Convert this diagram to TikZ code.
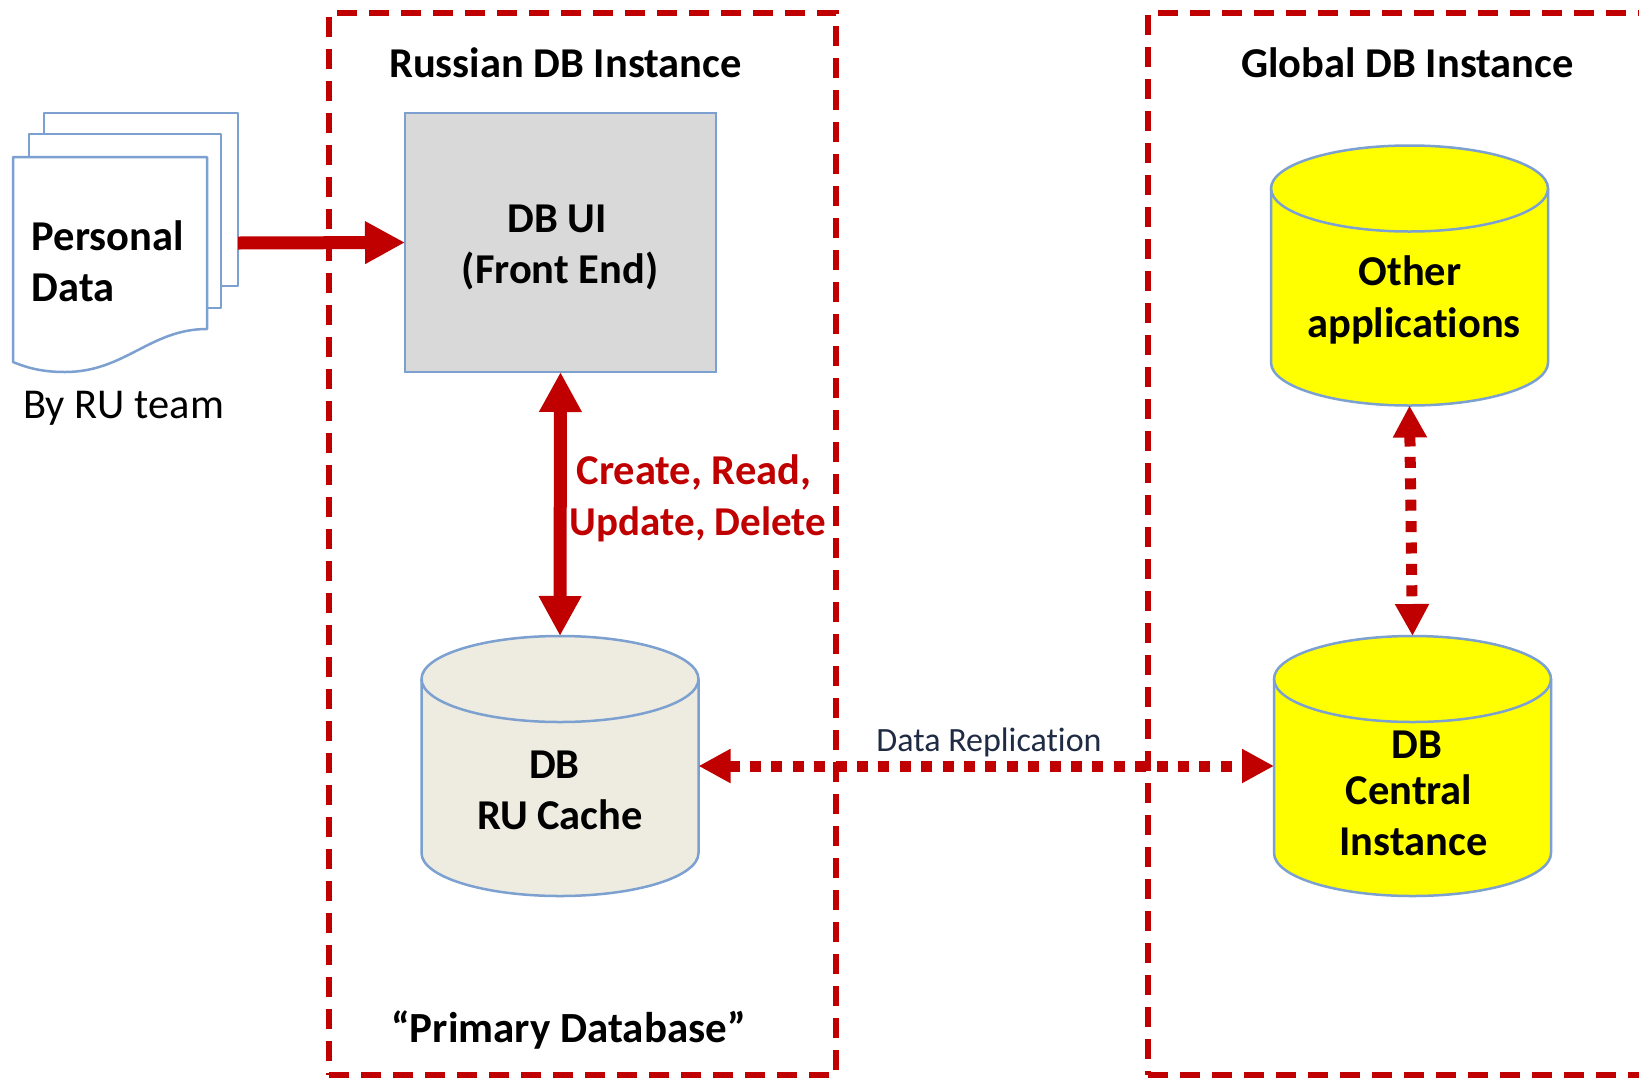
\documentclass[tikz,border=0pt]{standalone}
\usepackage{fontspec}
\setmainfont[RawFeature={-liga}]{Carlito}
\usetikzlibrary{arrows.meta}
\definecolor{dbred}{HTML}{C00000}
\definecolor{dbblue}{HTML}{7CA0D0}
\definecolor{dbcache}{HTML}{EEECE1}
\definecolor{dbgrey}{HTML}{D9D9D9}
\definecolor{dbyellow}{HTML}{FFFF00}
\definecolor{dbink}{HTML}{1F2A44}
\tikzset{
  zone/.style={draw=dbred,line width=6pt,line cap=butt,dash pattern=on 20pt off 12pt,rectangle,inner sep=0pt,outer sep=0pt},
  cylframe/.style={rectangle,inner sep=0pt,outer sep=0pt,minimum width=277pt,minimum height=260pt},
  cylbody/.style={draw=dbblue,line width=2.5pt,fill=#1},
  uibox/.style={draw=dbblue,line width=2.5pt,fill=dbgrey,rectangle,inner sep=0pt,outer sep=0pt},
  sheet/.style={draw=dbblue,line width=2.5pt,fill=white,line join=round},
  lblb/.style={anchor=base,inner sep=0pt,font=\fontsize{42.5}{42.5}\selectfont\bfseries},
  lblr/.style={anchor=base,inner sep=0pt,font=\fontsize{42.5}{42.5}\selectfont},
  solidarrow/.style={draw=dbred,line width=13pt,{Triangle[length=40pt,width=40pt]}-{Triangle[length=40pt,width=40pt]}},
  oneway/.style={draw=dbred,line width=13pt,-{Triangle[length=40pt,width=40pt]}},
  dotarrow/.style={draw=dbred,line width=11pt,dash pattern=on 11pt off 10.4pt,{Triangle[length=32pt,width=32pt]}-{Triangle[length=32pt,width=32pt]}}
}
% name, centre x, centre y, fill
\newcommand{\dbdrum}[4]{%
  \node[cylframe] (#1) at (#2,#3) {};
  \draw[cylbody=#4] (#1.north west) ++(0,43) arc[x radius=138.5,y radius=-43,start angle=180,end angle=0]
    -- ++(0,174) arc[x radius=138.5,y radius=-43,start angle=0,end angle=-180] -- cycle;
  \draw[draw=dbblue,line width=2.5pt] (#1.north west) ++(0,43) arc[x radius=138.5,y radius=-43,start angle=-180,end angle=0];
}
\begin{document}
\begin{tikzpicture}[x=1pt,y=-1pt]
\useasboundingbox (0,0) rectangle (1639,1077);
\clip (0,0) rectangle (1639,1077);
\fill[white] (0,0) rectangle (1639,1077);
% zones
\node[zone,minimum width=507pt,minimum height=1062pt] (ruzone) at (582.5,544) {};
\node[zone,minimum width=700pt,minimum height=1062pt] (glzone) at (1498,544) {};
% document stack
\node[inner sep=0pt,minimum width=225pt,minimum height=259pt] (docs) at (125.5,243) {};
\draw[sheet] (44,134) -- (44,113) -- (238,113) -- (238,286) -- (221,286);
\draw[sheet] (29,157) -- (29,134) -- (221,134) -- (221,308) -- (207,308);
\draw[sheet] (13,157) -- (207,157) -- (207,329) .. controls (150,329) and (125,372) .. (65,372) .. controls (45,372) and (30,369) .. (13,362) -- cycle;
% main shapes
\node[uibox,minimum width=311pt,minimum height=259pt] (ui) at (560.5,242.5) {};
\dbdrum{cache}{560}{766}{dbcache}
\dbdrum{other}{1409.5}{275.5}{dbyellow}
\dbdrum{central}{1412.5}{766}{dbyellow}
% connectors
\draw[oneway] (docs.east) -- (ui.west);
\draw[solidarrow] (ui.south) -- (cache.north);
\draw[dotarrow] (cache.east) -- (central.west);
\draw[dotarrow] (other.south) -- (central.north);
% labels
\node[lblb] (t1) at (565.5,77) {Russian DB Instance};
\node[lblb] (t2) at (1407.5,77) {Global DB Instance};
\node[lblb,anchor=base west] (t3) at (31.5,250) {Personal};
\node[lblb,anchor=base west] (t4) at (31.5,301) {Data};
\node[lblr,anchor=base west] (t5) at (23,418.5) {By RU team};
\node[lblb] (t6) at (557,232) {DB UI};
\node[lblb] (t7) at (560,283) {(Front End)};
\node[lblb,text=dbred] (t8) at (694,484) {Create, Read,};
\node[lblb,text=dbred,font=\fontsize{41}{41}\selectfont\bfseries] (t9) at (698,535) {Update, Delete};
\node[lblb] (t10) at (554.5,778) {DB};
\node[lblb] (t11) at (560,829) {RU Cache};
\node[lblb] (t12) at (1410,285) {Other};
\node[lblb] (t13) at (1414,337) {applications};
\node[lblb] (t14) at (1417,758) {DB};
\node[lblb] (t15) at (1409,804) {Central};
\node[lblb] (t16) at (1413.5,855) {Instance};
\node[lblb,font=\fontsize{43}{43}\selectfont\bfseries] (t17) at (568.5,1042) {“Primary Database”};
\node[lblr,font=\fontsize{34}{34}\selectfont,text=dbink] (t18) at (989,751) {Data Replication};
\end{tikzpicture}
\end{document}
